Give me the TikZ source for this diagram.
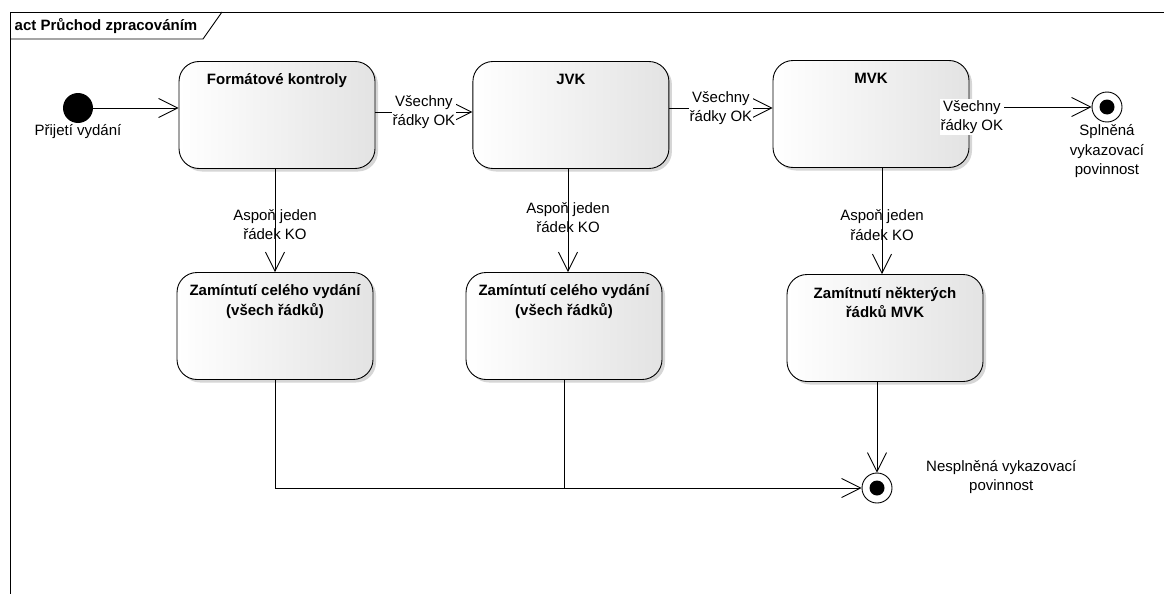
\documentclass[tikz,border=0pt]{standalone}
\usepackage{fontspec}
\setmainfont{Liberation Sans}
\usetikzlibrary{shapes.misc,calc,arrows.meta,shadows,positioning}

\tikzset{
  txt/.style={font=\fontsize{15pt}{19.5pt}\selectfont},
  activity/.style={draw,rectangle,rounded corners=20pt,minimum width=196pt,
    minimum height=107pt,inner sep=0pt,left color=white,right color=black!11,
    drop shadow={shadow xshift=3pt,shadow yshift=-3pt,fill=black!16,opacity=1}},
  title/.style={anchor=north,yshift=-9pt,align=center,
    font=\fontsize{15pt}{19.5pt}\selectfont\bfseries},
  startnode/.style={circle,fill=black,minimum size=30pt,inner sep=0pt},
  endnode/.style={circle,draw,fill=white,minimum size=30pt,inner sep=0pt,
    path picture={\fill[black] (path picture bounding box.center) circle (7.5pt);}},
  hlabel/.style={txt,fill=white,align=center,inner sep=1pt},
  vlabel/.style={txt,align=center,inner sep=1pt}
}

\begin{document}
\begin{tikzpicture}[x=1pt,y=-1pt,line width=0.9pt,
    >={Straight Barb[length=19pt,width=19pt]}]
  \useasboundingbox (0,0) rectangle (1164,594);
  % frame
  \draw (10,594) -- (10,12) -- (1164,12);
  \draw (10,39) -- (203,39) -- (222,12);
  \node[txt,font=\fontsize{15pt}{19.5pt}\selectfont\bfseries] (frame) at (106,26) {act Průchod zpracováním};

  \node[startnode,label={[txt,inner sep=0pt,yshift=-1pt]below:Přijetí vydání}] (start) at (78,108) {};

  \node[activity,label={[title]north:Formátové kontroly}] (FK) at (277,115) {};
  \node[activity,label={[title]north:JVK}] (JVK) [right=97pt of FK] {};
  \node[activity,label={[title]north:MVK}] (MVK) at (871,114) {};

  \node[activity,label={[title]north:Zamíntutí celého vydání\\(všech řádků)}] (ZC1) at (275,326) {};
  \node[activity,label={[title]north:Zamíntutí celého vydání\\(všech řádků)}] (ZC2) at (564,326) {};
  \node[activity,label={[title]north:Zamítnutí některých\\řádků MVK}] (ZN) at (885,328) {};

  \node[endnode,label={[txt,align=center,inner sep=0pt,yshift=-2pt]below:Splněná\\vykazovací\\povinnost}] (ok) at (1107,107) {};
  \node[endnode,label={[txt,align=center,anchor=west,xshift=30pt,yshift=11pt]east:Nesplněná vykazovací\\povinnost}] (ko) at (877,488) {};

  % transitions
  \draw[->] (start) -- (start -| FK.west);
  \draw[->] ([yshift=3pt]FK.east) -- node[hlabel]{Všechny\\řádky OK} ([yshift=3pt]FK.east -| JVK.west);
  \draw[->] ([yshift=7pt]JVK.east) -- node[hlabel]{Všechny\\řádky OK} ([yshift=7pt]JVK.east -| MVK.west);
  \draw[->] (MVK.east |- ok) -- node[hlabel,pos=0.02,yshift=-10pt]{Všechny\\řádky OK} (ok);

  \draw[->] (FK.south -| ZC1.north) -- node[vlabel,yshift=-4pt]{Aspoň jeden\\řádek KO} (ZC1.north);
  \draw[->] ([xshift=4pt]ZC2.north |- JVK.south) -- node[vlabel,yshift=3pt]{Aspoň jeden\\řádek KO} ([xshift=4pt]ZC2.north);
  \draw[->] ([xshift=-3pt]MVK.south -| ZN.north) -- node[vlabel,yshift=-4pt]{Aspoň jeden\\řádek KO} ([xshift=-3pt]ZN.north);

  \draw[->] (ko |- ZN.south) -- (ko);
  \draw[->] (ZC1.south) |- (ko);
  \draw (ZC2.south) -- (ZC2.south |- ko);
\end{tikzpicture}
\end{document}
